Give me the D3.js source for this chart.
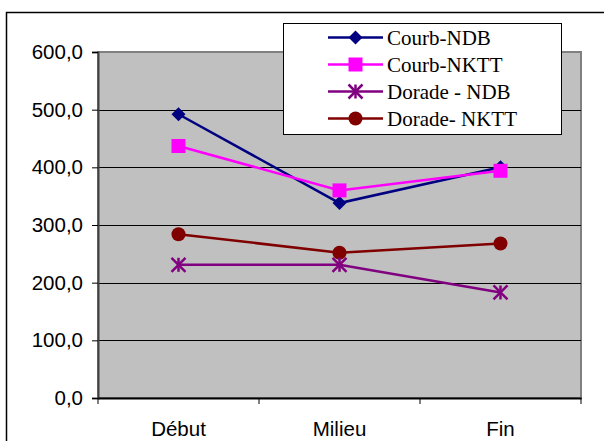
<!DOCTYPE html>
<html><head><meta charset="utf-8">
<script src="https://cdn.jsdelivr.net/npm/d3@7"></script>
<style>body{margin:0;background:#fff;overflow:hidden}svg{display:block}</style>
</head><body>
<script>
const categories = ["Début", "Milieu", "Fin"];
const seriesNames = ["Courb-NDB", "Courb-NKTT", "Dorade - NDB", "Dorade- NKTT"];
const courbNDB = [492, 338, 400];
const courbNKTT = [437, 360, 394];
const doradeNDB = [231, 231, 183];
const doradeNKTT = [284, 252, 268];
const yTicks = [0, 100, 200, 300, 400, 500, 600];

const series = [
  {name: seriesNames[0], values: courbNDB, color: "#000080", marker: "diamond"},
  {name: seriesNames[1], values: courbNKTT, color: "#ff00ff", marker: "square"},
  {name: seriesNames[2], values: doradeNDB, color: "#800080", marker: "star"},
  {name: seriesNames[3], values: doradeNKTT, color: "#800000", marker: "circle"}
];

const W = 604, H = 441;
const svg = d3.select("body").append("svg").attr("width", W).attr("height", H);
const L = 98, R = 581, T = 52, B = 398;

// outer chart border
svg.append("rect").attr("x", 6.5).attr("y", 12.5).attr("width", 700).attr("height", 600)
  .attr("fill", "#fff").attr("stroke", "#000").attr("stroke-width", 1.5);

const x = d3.scaleBand().domain(categories).range([L, R]);
const y = d3.scaleLinear().domain([0, 600]).range([B, T]);

// plot area
svg.append("rect").attr("x", L).attr("y", T).attr("width", R - L).attr("height", B - T)
  .attr("fill", "#c0c0c0").attr("stroke", "#808080").attr("stroke-width", 2);

// gridlines
svg.append("g").selectAll("line").data(yTicks.filter(d => d > 0 && d < 600)).join("line")
  .attr("x1", L).attr("x2", R).attr("y1", d => Math.round(y(d)) + 0.5).attr("y2", d => Math.round(y(d)) + 0.5)
  .attr("stroke", "#000").attr("stroke-width", 1);

// y axis
const yAxis = d3.axisLeft(y).tickValues(yTicks).tickSize(6).tickPadding(9)
  .tickFormat(d => d3.format(".1f")(d).replace(".", ","));
const gy = svg.append("g").attr("transform", `translate(${L},0)`).call(yAxis);
gy.select(".domain").attr("stroke", "#404040").attr("stroke-width", 2);
gy.selectAll(".tick line").attr("stroke", "#000");
gy.selectAll("text").attr("font-family", "Liberation Sans, Arial, sans-serif").attr("font-size", 20.5).attr("fill", "#000");

// x axis
const xAxis = d3.axisBottom(x).tickSize(0).tickPadding(23);
const gx = svg.append("g").attr("transform", `translate(0,${B})`).call(xAxis);
gx.select(".domain").attr("stroke", "#000").attr("stroke-width", 2);
gx.selectAll("text").attr("font-family", "Liberation Sans, Arial, sans-serif").attr("font-size", 20.5).attr("fill", "#000");
const xTickPos = [L].concat(categories.map(c => x(c) + x.bandwidth()));
gx.append("g").selectAll("line").data(xTickPos).join("line")
  .attr("x1", d => d).attr("x2", d => d).attr("y1", 0).attr("y2", 6).attr("stroke", "#000");

function drawMarker(g, type, color, cx, cy, scale) {
  const s = scale || 1;
  if (type === "diamond") {
    const r = 7 * s;
    g.append("path").attr("d", `M${cx},${cy - r}L${cx + r},${cy}L${cx},${cy + r}L${cx - r},${cy}Z`).attr("fill", color);
  } else if (type === "square") {
    const r = 7 * s;
    g.append("rect").attr("x", cx - r).attr("y", cy - r).attr("width", 2 * r).attr("height", 2 * r).attr("fill", color);
  } else if (type === "circle") {
    g.append("circle").attr("cx", cx).attr("cy", cy).attr("r", 7 * s).attr("fill", color);
  } else if (type === "star") {
    const r = 7 * s;
    const p = [[cx - r, cy - r, cx + r, cy + r], [cx - r, cy + r, cx + r, cy - r], [cx, cy - r, cx, cy + r]];
    p.forEach(a => g.append("line").attr("x1", a[0]).attr("y1", a[1]).attr("x2", a[2]).attr("y2", a[3])
      .attr("stroke", color).attr("stroke-width", 2.5));
  }
}

const line = d3.line().x((d, i) => x(categories[i]) + x.bandwidth() / 2).y(d => y(d));
const drawOrder = [3, 2, 0, 1];
drawOrder.forEach(k => {
  const s = series[k];
  const g = svg.append("g");
  g.append("path").attr("d", line(s.values)).attr("fill", "none").attr("stroke", s.color).attr("stroke-width", 2.5);
  s.values.forEach((v, i) => drawMarker(g, s.marker, s.color, x(categories[i]) + x.bandwidth() / 2, y(v)));
});

// legend
const lg = svg.append("g");
lg.append("rect").attr("x", 283.5).attr("y", 23.5).attr("width", 278).attr("height", 111)
  .attr("fill", "#fff").attr("stroke", "#000").attr("stroke-width", 1);
series.forEach((s, i) => {
  const cy = 37.5 + i * 27;
  lg.append("line").attr("x1", 328).attr("x2", 383).attr("y1", cy).attr("y2", cy).attr("stroke", s.color).attr("stroke-width", 2.5);
  drawMarker(lg, s.marker, s.color, 355.5, cy, 1);
  lg.append("text").attr("x", 387).attr("y", cy + 7).text(s.name)
    .attr("font-family", "Liberation Serif, Times New Roman, serif").attr("font-size", 21).attr("fill", "#000");
});
</script>
</body></html>
